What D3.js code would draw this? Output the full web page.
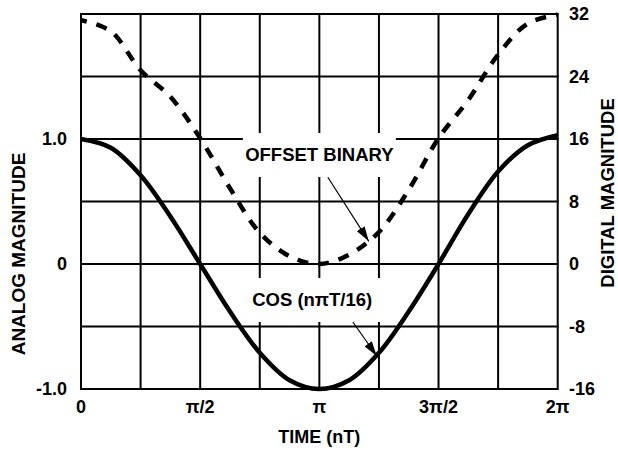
<!DOCTYPE html>
<html>
<head>
<meta charset="utf-8">
<script src="https://cdn.jsdelivr.net/npm/d3@7"></script>
<style>
body { margin: 0; background: #fff; }
text { font-family: "Liberation Sans", Arial, sans-serif; font-weight: bold; fill: #000; }
</style>
</head>
<body>
<script>
var PI = Math.PI;

// samples every pi/8 from 0 to 2pi
var sampleSteps = d3.range(0, 17);
var cosValues = [1.0, 0.93, 0.71, 0.38, 0.0, -0.38, -0.71, -0.93, -1.0,
                 -0.93, -0.71, -0.38, 0.0, 0.40, 0.74, 0.95, 1.03];
var offsetValues = [31.2, 29.8, 24.8, 21.4, 16.1, 9.7, 4.0, 1.0, 0,
                    1.2, 4.1, 9.5, 16.1, 21.0, 26.8, 30.8, 31.9];

// tick labels
var xTickValues = [0, 0.5, 1, 1.5, 2];          // multiples of pi
var xTickLabels = ["0", "\u03c0/2", "\u03c0", "3\u03c0/2", "2\u03c0"];
var leftTickValues = [-1, 0, 1];
var leftTickLabels = ["-1.0", "0", "1.0"];
var rightTickValues = [-16, -8, 0, 8, 16, 24, 32];

// annotations (x in multiples of pi)
var labelNames = ["OFFSET BINARY", "COS (n\u03c0T/16)"];
var labelX = [1.0, 0.97];
var labelY = [0.872, -0.288];          // analog units
var arrowFrom = [[1.0356, 11.1], [1.1405, -0.464]];
var arrowTo = [[1.2075, 2.9], [1.241, -0.736]];
var arrowAxis = ["digital", "analog"];

var svgWidth = 618, svgHeight = 451;
var plotLeft = 81, plotRight = 557.7, plotTop = 14, plotBottom = 389;

var xScale = d3.scaleLinear().domain([0, 2 * PI]).range([plotLeft, plotRight]);
var yAnalog = d3.scaleLinear().domain([-1, 2]).range([plotBottom, plotTop]);
var yDigital = d3.scaleLinear().domain([-16, 32]).range([plotBottom, plotTop]);

var svg = d3.select('body')
    .append('svg')
    .attr('width', svgWidth)
    .attr('height', svgHeight);

svg.append('defs').append('marker')
    .attr('id', 'head')
    .attr('markerUnits', 'userSpaceOnUse')
    .attr('viewBox', '0 0 15 9')
    .attr('refX', 15).attr('refY', 4.5)
    .attr('markerWidth', 15).attr('markerHeight', 9)
    .attr('orient', 'auto')
    .append('path')
    .attr('d', 'M0,0 L15,4.5 L0,9 Z')
    .attr('fill', '#000');

// grid
var grid = svg.append('g').attr('stroke', '#000').attr('stroke-width', 2);
d3.range(0, 9).forEach(function(k) {
    grid.append('line')
        .attr('x1', xScale(k * PI / 4)).attr('x2', xScale(k * PI / 4))
        .attr('y1', plotTop).attr('y2', plotBottom);
});
d3.range(-1, 2.01, 0.5).forEach(function(v) {
    grid.append('line')
        .attr('x1', plotLeft - 1).attr('x2', plotRight + 1)
        .attr('y1', yAnalog(v)).attr('y2', yAnalog(v));
});

// white boxes behind labels
labelNames.forEach(function(name, i) {
    var cx = xScale(labelX[i] * PI), cy = yAnalog(labelY[i]);
    var w = i === 0 ? 153 : 140;
    svg.append('rect')
        .attr('x', cx - w / 2).attr('y', cy - 22)
        .attr('width', w).attr('height', 44)
        .attr('fill', '#fff');
});

var line = d3.line().curve(d3.curveCatmullRom);

svg.append('path')
    .datum(sampleSteps.map(function(n, i) { return [xScale(n * PI / 8), yDigital(offsetValues[i])]; }))
    .attr('d', line)
    .attr('fill', 'none')
    .attr('stroke', '#000')
    .attr('stroke-width', 4.5)
    .attr('stroke-dasharray', '11,10')
    .attr('stroke-dashoffset', 5);

svg.append('path')
    .datum(sampleSteps.map(function(n, i) { return [xScale(n * PI / 8), yAnalog(cosValues[i])]; }))
    .attr('d', line)
    .attr('fill', 'none')
    .attr('stroke', '#000')
    .attr('stroke-width', 4.5)
    .attr('stroke-linejoin', 'round');

// labels and arrows
labelNames.forEach(function(name, i) {
    svg.append('text')
        .attr('x', xScale(labelX[i] * PI))
        .attr('y', yAnalog(labelY[i]))
        .attr('dy', '0.35em')
        .attr('text-anchor', 'middle')
        .style('font-size', '18.5px')
        .text(name);
    var ys = arrowAxis[i] === 'digital' ? yDigital : yAnalog;
    svg.append('line')
        .attr('x1', xScale(arrowFrom[i][0] * PI)).attr('y1', ys(arrowFrom[i][1]))
        .attr('x2', xScale(arrowTo[i][0] * PI)).attr('y2', ys(arrowTo[i][1]))
        .attr('stroke', '#000').attr('stroke-width', 1.2)
        .attr('marker-end', 'url(#head)');
});

// tick labels
svg.selectAll('.xt').data(xTickValues).enter().append('text')
    .attr('x', function(d) { return xScale(d * PI); })
    .attr('y', 413)
    .attr('text-anchor', 'middle')
    .style('font-size', '18px')
    .text(function(d, i) { return xTickLabels[i]; });

svg.selectAll('.lt').data(leftTickValues).enter().append('text')
    .attr('x', 67)
    .attr('y', function(d) { return yAnalog(d); })
    .attr('dy', '0.35em')
    .attr('text-anchor', 'end')
    .style('font-size', '18px')
    .text(function(d, i) { return leftTickLabels[i]; });

svg.selectAll('.rt').data(rightTickValues).enter().append('text')
    .attr('x', 569)
    .attr('y', function(d) { return yDigital(d); })
    .attr('dy', '0.35em')
    .attr('text-anchor', 'start')
    .style('font-size', '18px')
    .text(function(d) { return d; });

// axis titles
svg.append('text')
    .attr('x', plotLeft + (plotRight - plotLeft) / 2).attr('y', 443)
    .attr('text-anchor', 'middle')
    .style('font-size', '18px')
    .text('TIME (nT)');

svg.append('text')
    .attr('transform', 'translate(25,254) rotate(-90)')
    .attr('text-anchor', 'middle')
    .style('font-size', '19px')
    .text('ANALOG MAGNITUDE');

svg.append('text')
    .attr('transform', 'translate(613.5,193) rotate(-90)')
    .attr('text-anchor', 'middle')
    .style('font-size', '18.5px')
    .text('DIGITAL MAGNITUDE');
</script>
</body>
</html>
